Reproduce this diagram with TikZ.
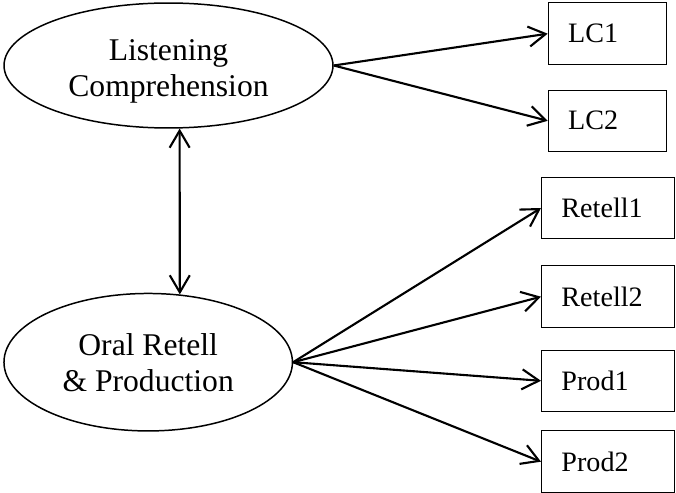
\documentclass[tikz,border=0pt]{standalone}
\usepackage{fontspec}
\setmainfont{Liberation Serif}
\usetikzlibrary{arrows.meta}
\usetikzlibrary{shapes.geometric}

\begin{document}
\begin{tikzpicture} [x=0.02cm, y=-0.02cm,
  factor/.style={ellipse, draw, line width=0.85pt, inner sep=0pt, align=center, font=\fontsize{18}{20.5}\selectfont},
  indicator/.style={rectangle, draw, line width=0.55pt, anchor=west, minimum height=1.23cm, inner xsep=0.4cm, align=left, font=\fontsize{16}{19}\selectfont},
  load/.style={line width=1.2pt, -{Straight Barb[length=9.7pt, width=11.4pt]}},
  covar/.style={line width=1.2pt, {Straight Barb[length=9.7pt, width=11.4pt]}-{Straight Barb[length=9.7pt, width=11.4pt]}}]
\useasboundingbox (0,0) rectangle (676,493);

\node[factor, minimum width=6.58cm, minimum height=2.5cm] (lc) at (168.5,65.5) {\rule{0pt}{0.67cm}Listening\\Comprehension};
\node[factor, minimum width=5.77cm, minimum height=2.75cm] (orp) at (148.2,362.2) {Oral Retell\\\& Production};

\node[indicator, text width=1.56cm] (lc1) at (547.7,33.7) {LC1};
\node[indicator, text width=1.56cm] (lc2) at (547.7,120.8) {LC2};
\node[indicator, text width=1.86cm] (ret1) at (541,208) {Retell1};
\node[indicator, text width=1.86cm] (ret2) at (541,296.7) {Retell2};
\node[indicator, text width=1.86cm] (prod1) at (541,380.8) {Prod1};
\node[indicator, text width=1.86cm] (prod2) at (541,461.7) {Prod2};

\draw[covar] (lc.-80.4) -- (orp.65.4);

\draw[load] (lc.east) -- (lc1.west);
\draw[load] (lc.east) -- (lc2.west);
\draw[load] (orp.east) -- (ret1.west);
\draw[load] (orp.east) -- (ret2.west);
\draw[load] (orp.east) -- (prod1.west);
\draw[load] (orp.east) -- (prod2.west);

\end{tikzpicture}
\end{document}
